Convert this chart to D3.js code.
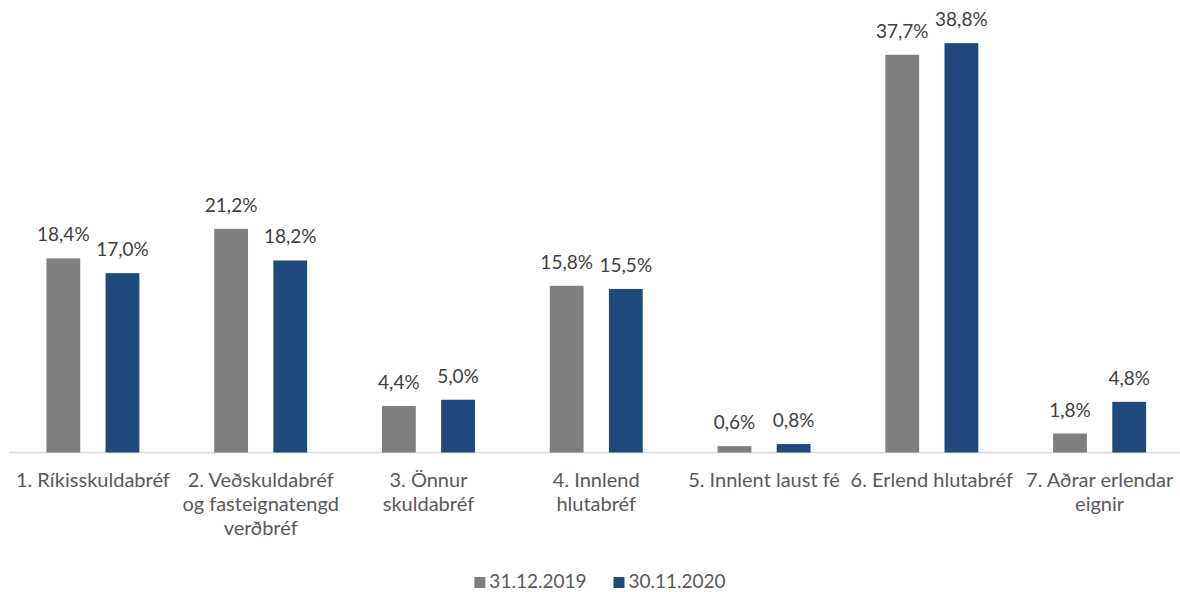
<!DOCTYPE html>
<html><head><meta charset="utf-8">
<script src="https://cdn.jsdelivr.net/npm/d3@7"></script>
<style>html,body{margin:0;padding:0;background:#fff;}svg{display:block;}</style>
</head><body>
<svg id="chart" width="1180" height="592"></svg>
<script>
const categories = [
  ["1. Ríkisskuldabréf"],
  ["2. Veðskuldabréf", "og fasteignatengd", "verðbréf"],
  ["3. Önnur", "skuldabréf"],
  ["4. Innlend", "hlutabréf"],
  ["5. Innlent laust fé"],
  ["6. Erlend hlutabréf"],
  ["7. Aðrar erlendar", "eignir"]
];
const seriesNames = ["31.12.2019", "30.11.2020"];
const values2019 = [18.4, 21.2, 4.4, 15.8, 0.6, 37.7, 1.8];
const values2020 = [17.0, 18.2, 5.0, 15.5, 0.8, 38.8, 4.8];
const colors = ["#7f7f7f", "#1f497d"];

const FONT = "Lato, 'Open Sans', sans-serif";
const svg = d3.select("#chart");
const keys = categories.map((c, i) => i);
const x = d3.scaleBand().domain(keys).range([9, 1183.5]).padding(0);
const y = d3.scaleLinear().domain([0, 40]).range([452.5, 30.5]);
const barW = x.bandwidth() * 0.2015;
const gap = x.bandwidth() * 0.151;
const series = [values2019, values2020];

// baseline
svg.append("line").attr("x1", 9).attr("x2", 1180).attr("y1", y(0)).attr("y2", y(0))
  .attr("stroke", "#d9d9d9").attr("stroke-width", 1.5);

series.forEach((vals, s) => {
  const off = s === 0 ? -(gap / 2 + barW) : gap / 2;
  const g = svg.append("g");
  g.selectAll("rect").data(vals).join("rect")
    .attr("x", (d, i) => x(i) + x.bandwidth() / 2 + off)
    .attr("y", d => y(d))
    .attr("width", barW)
    .attr("height", d => y(0) - y(d))
    .attr("fill", colors[s]);
  g.selectAll("text").data(vals).join("text")
    .attr("x", (d, i) => x(i) + x.bandwidth() / 2 + off + barW / 2)
    .attr("y", d => y(d) - 17)
    .attr("text-anchor", "middle")
    .attr("font-family", FONT).attr("font-size", 19)
    .attr("fill", "#404040")
    .text(d => d.toFixed(1).replace(".", ",") + "%");
});

// category labels
const cl = svg.append("g");
categories.forEach((lines, i) => {
  const t = cl.append("text")
    .attr("x", x(i) + x.bandwidth() / 2)
    .attr("y", 487)
    .attr("text-anchor", "middle")
    .attr("font-family", FONT).attr("font-size", 20)
    .attr("fill", "#595959");
  lines.forEach((l, j) => {
    t.append("tspan").attr("x", x(i) + x.bandwidth() / 2).attr("y", 487 + j * 24).text(l);
  });
});

// legend
const lg = svg.append("g");
const items = seriesNames.map((n, i) => {
  const g = lg.append("g");
  g.append("rect").attr("x", 0).attr("y", -11).attr("width", 11).attr("height", 11).attr("fill", colors[i]);
  const t = g.append("text").attr("x", 15).attr("y", 0)
    .attr("font-family", FONT).attr("font-size", 19).attr("fill", "#595959").text(n);
  return {g, w: 15 + t.node().getComputedTextLength()};
});
const spacing = 27;
const total = items.reduce((a, b) => a + b.w, 0) + spacing * (items.length - 1);
let cx = 600 - total / 2;
items.forEach(it => { it.g.attr("transform", `translate(${cx},588)`); cx += it.w + spacing; });
</script>
</body></html>
